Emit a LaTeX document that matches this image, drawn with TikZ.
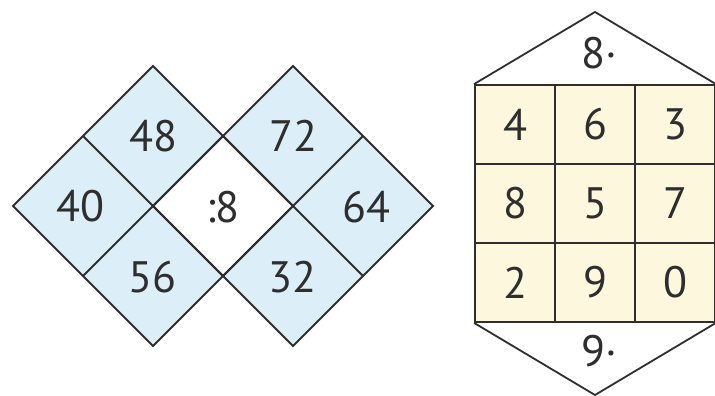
\documentclass[tikz,border=0pt]{standalone}
\usepackage{fontspec}
\setmainfont{PT Sans}
\usetikzlibrary{calc}
\definecolor{cellblue}{HTML}{DCEFF8}
\definecolor{cellyellow}{HTML}{FDF8DD}
\definecolor{linegray}{HTML}{2E2E2E}

\begin{document}
\begin{tikzpicture}[
    x=1pt, y=-1pt,
    line width=1.8pt,
    every node/.style={
        font=\fontsize{44}{48}\selectfont,
        text=linegray
    },
    edge/.style={draw=linegray, line join=miter},
    cell/.style={
        draw=linegray,
        fill=cellyellow,
        minimum width=80pt,
        minimum height=79pt,
        inner sep=0pt
    }
]
\useasboundingbox (0,0) rectangle (715,396);

% Left figure: two diamonds
\coordinate (lw) at (13,206);
\coordinate (lt) at (153,66);
\coordinate (lb) at (153,346);
\coordinate (mid) at (153,206);
\coordinate (rt) at (293,66);
\coordinate (rb) at (293,346);
\coordinate (mid2) at (293,206);
\coordinate (re) at (433,206);
\coordinate (ct) at (223,136);
\coordinate (cb) at (223,276);

\fill[cellblue] (lw) -- (lt) -- (mid2) -- (lb) -- cycle;
\fill[cellblue] (mid) -- (rt) -- (re) -- (rb) -- cycle;
\fill[white] (mid) -- (ct) -- (mid2) -- (cb) -- cycle;

\draw[edge] (lw) -- (lt) -- (mid2) -- (lb) -- cycle;
\draw[edge] (mid) -- (rt) -- (re) -- (rb) -- cycle;
\draw[edge] ($(lw)!0.5!(lt)$) -- (cb);
\draw[edge] ($(lw)!0.5!(lb)$) -- (ct);
\draw[edge] (ct) -- ($(re)!0.5!(rb)$);
\draw[edge] (cb) -- ($(re)!0.5!(rt)$);

% Numbers
\node (n48) at (153,136) {48};
\node (n40) at (80,206) {40};
\node (n56) at (152,277) {56};
\node (div) at (223,207) {:8};
\node (n72) at (293,136) {72};
\node (n64) at (366,207) {64};
\node (n32) at (292,277) {32};

% Right figure: grid
\foreach \v [count=\i from 0] in {4,6,3,8,5,7,2,9,0} {
    \pgfmathtruncatemacro\col{mod(\i,3)}
    \pgfmathtruncatemacro\row{div(\i,3)}
    \node[cell] (g\i) at ({515+80*\col},{124.5+79*\row}) {\v};
}

\coordinate (apex) at (595,12);
\coordinate (foot) at (595,395);
\draw[edge] (g0.north west) -- (apex) -- (g2.north east);
\draw[edge] (g6.south west) -- (foot) -- (g8.south east);

\node (times8) at (599,53) {8·};
\node (times9) at (599,351) {9·};

\end{tikzpicture}
\end{document}
